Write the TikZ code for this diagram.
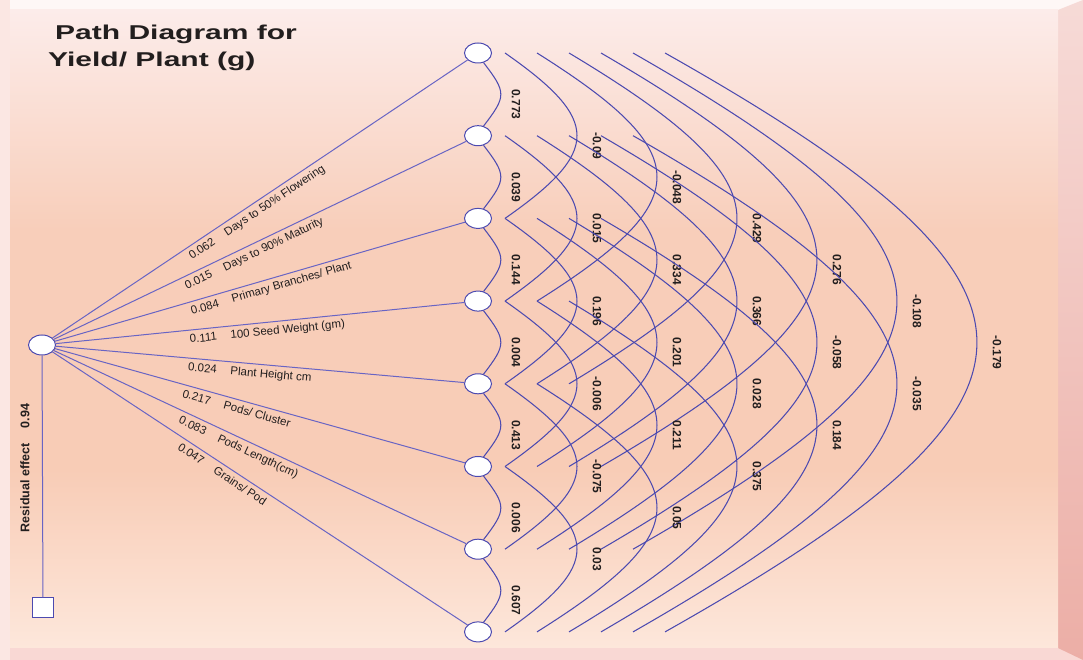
\documentclass[tikz,border=0pt]{standalone}
\usepackage{fontspec}
\setsansfont{Liberation Sans}
\usetikzlibrary{shapes.geometric}
\usetikzlibrary{calc}

\definecolor{pathblue}{RGB}{76,74,176}
\definecolor{fanblue}{RGB}{104,100,196}
\definecolor{panelTop}{RGB}{252,236,234}
\definecolor{panelMid}{RGB}{248,206,186}
\definecolor{panelLow}{RGB}{248,204,182}
\definecolor{panelBot}{RGB}{253,231,219}
\definecolor{bevelRight}{RGB}{236,174,166}
\definecolor{bevelTop}{RGB}{254,247,246}
\definecolor{bevelBot}{RGB}{249,216,212}
\definecolor{bevelLeft}{RGB}{251,231,227}
\definecolor{inkgray}{RGB}{34,30,30}

\tikzset{
  trait/.style={ellipse,draw=pathblue,fill=white,line width=1pt,minimum width=27pt,minimum height=20pt,inner sep=0pt},
  resid/.style={rectangle,draw=pathblue,fill=white,line width=1pt,minimum width=21pt,minimum height=20pt,inner sep=0pt},
  fan/.style={draw=fanblue,line width=1pt},
  corr/.style={draw=pathblue,line width=1.05pt},
  coef/.style={font=\sffamily\bfseries\fontsize{12}{12}\selectfont,text=inkgray,rotate=-90,inner sep=0pt},
  trtlabel/.style={font=\sffamily\fontsize{11.5}{11.5}\selectfont,text=inkgray,sloped,anchor=north west,inner sep=4pt},
}

\begin{document}
\begin{tikzpicture}[x=1pt,y=1pt]
  \useasboundingbox (0,0) rectangle (1083,660);
  % frame and panel
  \fill[bevelBot] (0,0) rectangle (1083,660);
  \fill[bevelTop] (0,650) rectangle (1083,660);
  \fill[bevelLeft] (0,0) rectangle (10,660);
  \shade[top color=bevelRight!45!white,bottom color=bevelRight] (1058,12) -- (1083,0) -- (1083,660) -- (1058,650) -- cycle;
  \shade[top color=panelTop,bottom color=panelMid] (10,430) rectangle (1058,650);
  \shade[top color=panelMid,bottom color=panelLow] (10,190) rectangle (1058,430.5);
  \shade[top color=panelLow,bottom color=panelBot] (10,12) rectangle (1058,190.5);

  \node[anchor=base west,inner sep=0pt,text=inkgray,font=\sffamily\bfseries\fontsize{20}{20}\selectfont] (title1) at (55,620) {\scalebox{1.5}[1]{Path Diagram for}};
  \node[anchor=base west,inner sep=0pt,text=inkgray,font=\sffamily\bfseries\fontsize{20}{20}\selectfont] (title2) at (48,593) {\scalebox{1.5}[1]{Yield/ Plant (g)}};

  \node[trait] (y) at (42,315) {};
  \node[resid] (res) at (43,52) {};
  \foreach \i in {1,...,8}
    \node[trait] (n\i) at (478,{607-82.7*(\i-1)}) {};

  \draw[fan] (y) -- (res);
  \node[rotate=90,inner sep=0pt,text=inkgray,font=\sffamily\bfseries\fontsize{12.5}{12.5}\selectfont] (restext) at (25,192) {Residual effect\hspace{1.2em}0.94};

  \foreach \i/\p/\nv/\tv in {1/0.31/0.062/{Days to 50\% Flowering},
                             2/0.30/0.015/{Days to 90\% Maturity},
                             3/0.315/0.084/{Primary Branches/ Plant},
                             4/0.315/0.111/{100 Seed Weight (gm)},
                             5/0.315/0.024/{Plant Height cm},
                             6/0.307/0.217/{Pods/ Cluster},
                             7/0.305/0.083/{Pods Length(cm)},
                             8/0.308/0.047/{Grains/ Pod}}
    \draw[fan] (y) -- (n\i) node[trtlabel,pos=\p] (lab\i) {\nv\hspace{1.2em}\tv};

  \foreach \i/\j/\rv in {1/2/0.773,1/3/-0.09,1/4/-0.048,1/5/0.429,1/6/0.276,1/7/-0.108,1/8/-0.179,
                         2/3/0.039,2/4/0.015,2/5/0.334,2/6/0.366,2/7/-0.058,2/8/-0.035,
                         3/4/0.144,3/5/0.196,3/6/0.201,3/7/0.028,3/8/0.184,
                         4/5/0.004,4/6/-0.006,4/7/0.211,4/8/0.375,
                         5/6/0.413,5/7/-0.075,5/8/0.05,
                         6/7/0.006,6/8/0.03,
                         7/8/0.607}{
    \pgfmathtruncatemacro\gap{\j-\i}
    \ifnum\gap=1
      \draw[corr] (n\i.-60) .. controls +(23,-30) and +(23,30) .. (n\j.60);
      \node[coef] (c\i\j) at ($(n\i)!0.5!(n\j)+(38,-10)$) {\rv};
    \else
      \pgfmathsetmacro\xs{27+32*(\gap-2)}
      \pgfmathsetmacro\cu{1.333*(72+48*(\gap-2))}
      \pgfmathsetmacro\cv{0.81*41.35*\gap}
      \pgfmathsetmacro\lx{119+80*(\gap-2)}
      \draw[corr] ($(n\i)+(\xs,0)$) .. controls +(\cu,-\cv) and +(\cu,\cv) .. ($(n\j)+(\xs,0)$);
      \node[coef] (c\i\j) at ($(n\i)!0.5!(n\j)+(\lx,-10)$) {\rv};
    \fi
  }
\end{tikzpicture}
\end{document}
